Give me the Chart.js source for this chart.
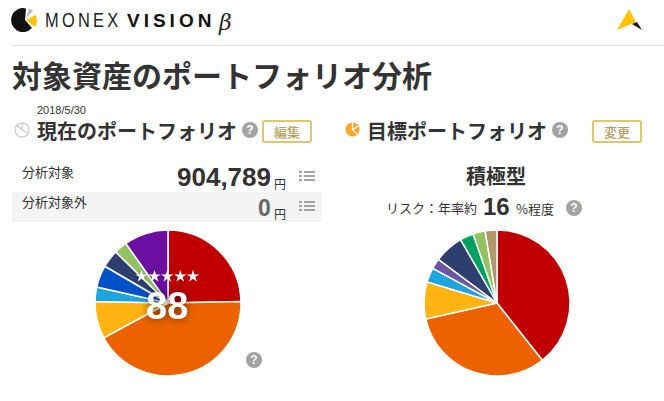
<!DOCTYPE html>
<html lang="ja"><head><meta charset="utf-8">
<style>
html,body{margin:0;padding:0;background:#fff;overflow:hidden}
body{width:664px;height:401px;position:relative;font-family:"Liberation Sans","Noto Sans CJK JP",sans-serif;color:#333}
.t{position:absolute;white-space:nowrap;line-height:1}
.jp{font-family:"Noto Sans CJK JP",sans-serif}
.b{font-weight:700}
canvas{position:absolute}
.btn{position:absolute;height:19px;border:2px solid #e0c76e;border-radius:3px;text-align:center;font:500 13px/19px "Noto Sans CJK JP",sans-serif;color:#b8a165}
.q{position:absolute;width:16px;height:16px;border-radius:50%;background:#a3a3a3;color:#fff;font:700 12px/16px "Liberation Sans",sans-serif;text-align:center}
svg{position:absolute}
</style></head><body>
<svg style="left:0;top:0" width="664" height="46" viewBox="0 0 664 46">
<path d="M25 20 L26 8.4 A12 12 0 1 0 32 28 Z" fill="#111"/>
<path d="M26 20 L35.5 15 A12 12 0 0 1 35 27 Z" fill="#ffc400"/>
<path d="M26 19 L29 8.5 L33 10.5 Z" fill="#bbb"/>
<path d="M617 30 L629 9 L636 22 Z" fill="#ffc400"/>
<path d="M632 24 L637 22 L642 30 Z" fill="#111"/>
</svg>
<div class="t" style="left:45px;top:10px;font-size:20px;letter-spacing:3.96px;color:#222;transform:scaleX(.82);transform-origin:0 0">MONEX</div>
<div class="t b" style="left:127px;top:11px;font-size:19px;letter-spacing:4px;color:#111">VISION</div>
<div class="t" style="left:219px;top:10px;font:italic 22px 'DejaVu Serif',serif;color:#222">β</div>
<div style="position:absolute;left:12px;top:45px;width:652px;height:1px;background:#ddd"></div>

<div class="t jp b" style="left:12px;top:59px;font-size:30px;color:#333">対象資産のポートフォリオ分析</div>

<div class="t" style="left:37px;top:105px;font-size:11px">2018/5/30</div>
<svg style="left:14px;top:122px" width="16" height="16" viewBox="0 0 16 16">
<circle cx="8" cy="8" r="7" fill="none" stroke="#ccc" stroke-width="1.3"/>
<path d="M8 1 V8 L14 11 M8 8 L3 3" fill="none" stroke="#ccc" stroke-width="1.3"/>
</svg>
<div class="t jp b" style="left:37px;top:121px;font-size:20px">現在のポートフォリオ</div>
<div class="q" style="left:242px;top:122px">?</div>
<div class="btn" style="left:262px;top:120px;width:46px">編集</div>

<svg style="left:345px;top:122px" width="15" height="15" viewBox="0 0 15 15">
<circle cx="7.5" cy="7.5" r="7" fill="#ffa726"/>
<path d="M7.5 1 V7.5 L13 4 M7.5 7.5 L12 12" fill="none" stroke="#fff" stroke-width="1.2"/>
</svg>
<div class="t jp b" style="left:367px;top:121px;font-size:20px">目標ポートフォリオ</div>
<div class="q" style="left:552px;top:122px">?</div>
<div class="btn" style="left:592px;top:120px;width:46px">変更</div>

<div class="t jp" style="left:22px;top:165px;font-size:13px">分析対象</div>
<div class="t b" style="left:177px;top:164px;font-size:26px">904,789</div>
<div class="t jp" style="left:274px;top:178px;font-size:12px">円</div>
<svg style="left:299px;top:170px" width="17" height="13"><g fill="#a3a3a3"><rect x="0" y="1" width="3" height="2"/><rect x="5" y="1" width="11" height="2"/><rect x="0" y="5" width="3" height="2"/><rect x="5" y="5" width="11" height="2"/><rect x="0" y="9" width="3" height="2"/><rect x="5" y="9" width="11" height="2"/></g></svg>

<div style="position:absolute;left:12px;top:192px;width:310px;height:30px;background:#f4f4f4"></div>
<div class="t jp" style="left:22px;top:195px;font-size:13px">分析対象外</div>
<div class="t b" style="left:258px;top:197px;font-size:23px;color:#666">0</div>
<div class="t jp" style="left:274px;top:208px;font-size:12px">円</div>
<svg style="left:299px;top:200px" width="17" height="13"><g fill="#a3a3a3"><rect x="0" y="1" width="3" height="2"/><rect x="5" y="1" width="11" height="2"/><rect x="0" y="5" width="3" height="2"/><rect x="5" y="5" width="11" height="2"/><rect x="0" y="9" width="3" height="2"/><rect x="5" y="9" width="11" height="2"/></g></svg>

<div class="t jp b" style="left:466px;top:166px;font-size:20px">積極型</div>
<div class="t jp" style="left:386px;top:201px;font-size:13px">リスク：年率約</div>
<div class="t b" style="left:483px;top:195px;font-size:24px">16</div>
<div class="t jp" style="left:516px;top:202px;font-size:13px">%程度</div>
<div class="q" style="left:566px;top:200px">?</div>

<canvas id="cur" width="160" height="160" style="left:87.5px;top:222.5px"></canvas>
<canvas id="tgt" width="160" height="160" style="left:417px;top:223px"></canvas>

<div class="t" style="left:135px;top:269px;font-size:13px;letter-spacing:-.1px;color:#fff;text-shadow:0 0 3px rgba(0,0,0,.35)">★★★★★</div>
<div class="t b" style="left:146px;top:287px;font-size:38px;color:#fff;text-shadow:0 0 8px rgba(0,0,0,.55)">88</div>
<div class="q" style="left:246px;top:352px">?</div>

<script src="https://cdn.jsdelivr.net/npm/chart.js@4"></script>
<script>
const currentLabels = ["国内株式","先進国株式","新興国株式","国内債券","先進国債券","新興国債券","国内REIT","その他"];
const currentValues = [24.7,42.4,8.2,3.2,4.9,3.9,2.9,9.8];
const currentColors = ["#c00000","#ed6200","#ffb414","#1ea5dc","#0050c8","#2c3f6e","#92c262","#6a0fa0"];
const targetLabels = ["国内株式","先進国株式","新興国株式","国内債券","先進国債券","新興国債券","国内REIT","海外REIT","コモディティ"];
const targetValues = [39.3,32.1,8.2,3.2,2.3,6.5,3.0,2.7,2.6];
const targetColors = ["#c00000","#ed6200","#ffb414","#1ea5dc","#6a55a5","#2c3f6e","#00a060","#92c262","#b09868"];
function pie(id, labels, values, colors){
  new Chart(document.getElementById(id),{
    type:"pie",
    data:{labels,datasets:[{data:values,backgroundColor:colors,borderColor:"#fff",borderWidth:1.5}]},
    options:{responsive:false,animation:false,radius:73,
      plugins:{legend:{display:false},tooltip:{enabled:false}}}
  });
}
pie("cur",currentLabels,currentValues,currentColors);
pie("tgt",targetLabels,targetValues,targetColors);
</script>
</body></html>
